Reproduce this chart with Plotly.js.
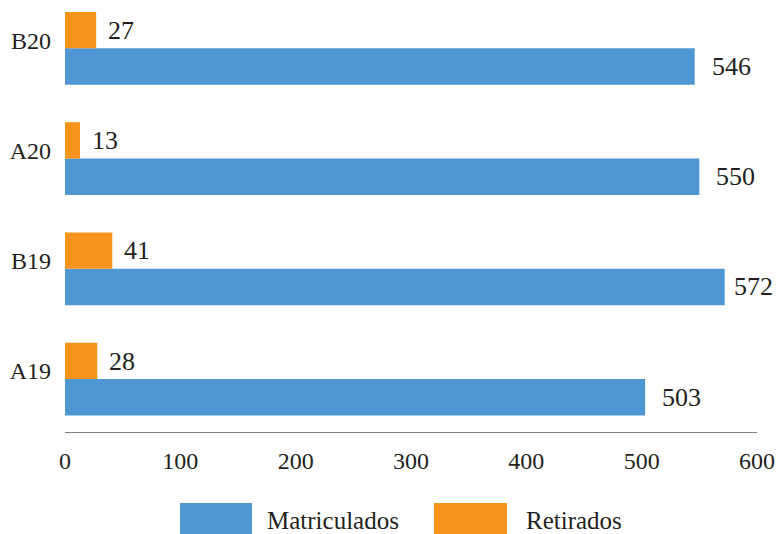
<!DOCTYPE html>
<html>
<head>
<meta charset="utf-8">
<script src="https://cdn.plot.ly/plotly-3.0.1.min.js"></script>
<style>html,body{margin:0;padding:0;background:#fff;}#chart{width:777px;height:534px;}</style>
</head>
<body>
<div id="chart"></div>
<script>
const categories = ["A19", "B19", "A20", "B20"];
const matriculados = [503, 572, 550, 546];
const retirados = [28, 41, 13, 27];
const seriesNames = ["Matriculados", "Retirados"];
const xTicks = [0, 100, 200, 300, 400, 500, 600];

const BLUE = "#4f97d2";
const ORANGE = "#f7941d";
const TXT = "#231f20";
const FONT = "'Liberation Serif', 'Times New Roman', serif";

const W = 777, ML = 65, MR = 20;
const pxPerUnit = (W - ML - MR) / 600;

const traces = [
  {type: "bar", orientation: "h", name: seriesNames[0], y: categories, x: matriculados,
   marker: {color: BLUE}, hoverinfo: "skip"},
  {type: "bar", orientation: "h", name: seriesNames[1], y: categories, x: retirados,
   marker: {color: ORANGE}, hoverinfo: "skip"}
];

const annotations = [];
categories.forEach((c, i) => {
  const endPx = ML + matriculados[i] * pxPerUnit;
  const shiftBlue = Math.min(15, (W - 5) - 40 - endPx);
  annotations.push({x: matriculados[i], y: c, xref: "x", yref: "y", text: String(matriculados[i]),
    showarrow: false, xanchor: "left", yanchor: "middle", xshift: shiftBlue, yshift: -18,
    font: {family: FONT, size: 26, color: TXT}});
  annotations.push({x: retirados[i], y: c, xref: "x", yref: "y", text: String(retirados[i]),
    showarrow: false, xanchor: "left", yanchor: "middle", xshift: 10, yshift: 18,
    font: {family: FONT, size: 26, color: TXT}});
});

// custom legend
const legendItems = [
  {name: seriesNames[0], color: BLUE, x0: 0.1662, x1: 0.2702, tx: 0.289},
  {name: seriesNames[1], color: ORANGE, x0: 0.5332, x1: 0.6387, tx: 0.6633}
];
const shapes = [];
legendItems.forEach(it => {
  shapes.push({type: "rect", xref: "paper", yref: "paper", x0: it.x0, x1: it.x1, y0: -0.2372, y1: -0.1651,
    fillcolor: it.color, line: {width: 0}});
  annotations.push({xref: "paper", yref: "paper", x: it.tx, y: -0.2047, text: it.name, showarrow: false,
    xanchor: "left", yanchor: "middle", font: {family: FONT, size: 25, color: TXT}});
});

const layout = {
  width: W, height: 534,
  margin: {l: ML, r: MR, t: 2, b: 102},
  paper_bgcolor: "#fff", plot_bgcolor: "#fff",
  barmode: "group", bargap: 0.34, bargroupgap: 0,
  showlegend: false,
  font: {family: FONT, color: TXT},
  xaxis: {range: [0, 600], tickvals: xTicks, ticktext: xTicks.map(String), showgrid: false, zeroline: false,
    showline: true, linecolor: "#808080", linewidth: 1.3, ticks: "", ticklabelstandoff: 7,
    tickfont: {family: FONT, size: 24, color: TXT}, fixedrange: true},
  yaxis: {type: "category", categoryorder: "array", categoryarray: categories, range: [-0.48, 3.42],
    showgrid: false, zeroline: false, showline: false, ticks: "", ticklabelstandoff: 13, ticklabelshift: -8,
    tickfont: {family: FONT, size: 24, color: TXT}, fixedrange: true},
  shapes: shapes,
  annotations: annotations
};

Plotly.newPlot("chart", traces, layout, {displayModeBar: false, staticPlot: true});
</script>
</body>
</html>
